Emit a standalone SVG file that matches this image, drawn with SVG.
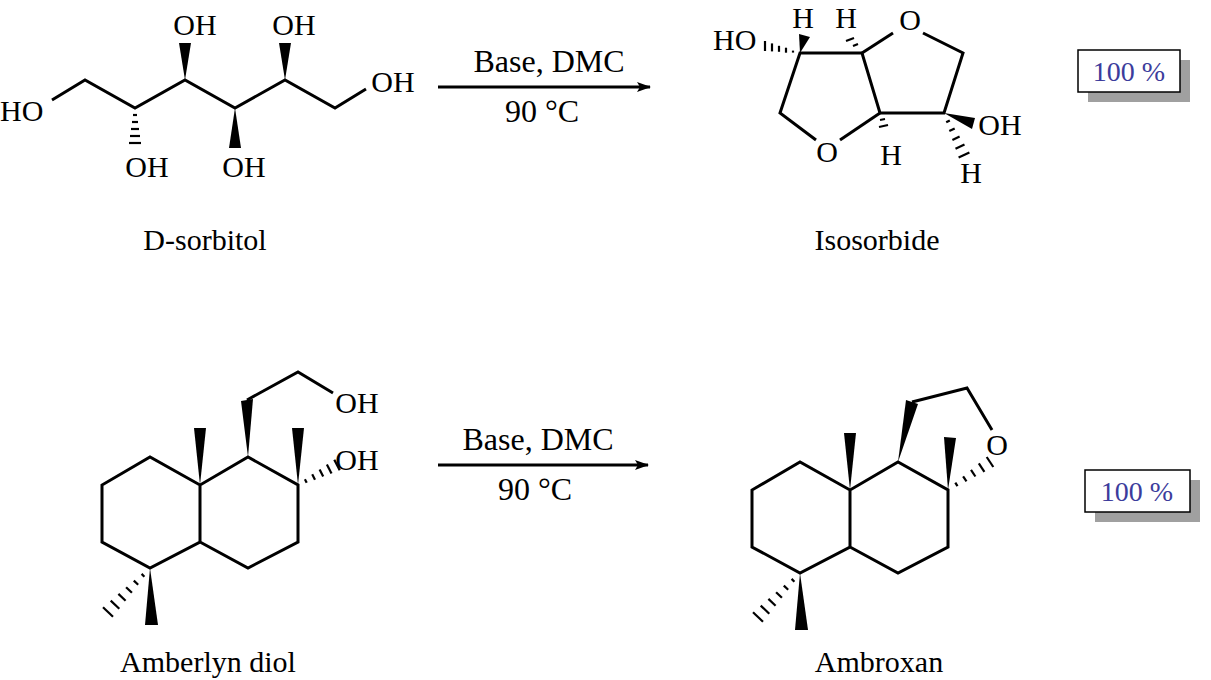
<svg xmlns="http://www.w3.org/2000/svg" xmlns:xlink="http://www.w3.org/1999/xlink" width="1211" height="680" viewBox="0 0 1211 680">
<style>
.b{stroke:#000;stroke-width:3;fill:none;stroke-linejoin:miter}
.h{stroke:#000;stroke-width:2.2}
.w{fill:#000}
text{font-family:"Liberation Serif","Times New Roman",serif;font-size:30px;fill:#000}
.m{text-anchor:middle}
.r{font-size:32px}
.p{fill:#3c3c9c;font-size:28px;text-anchor:middle}
.sh{fill:#a0a0a0}
.bx{fill:#fff;stroke:#000;stroke-width:1.5}
</style>
<defs>
<marker id="ar" markerWidth="14" markerHeight="10" refX="13" refY="5" orient="auto" markerUnits="userSpaceOnUse"><path d="M0,0 L14,5 L0,10 L3,5 Z" fill="#000"/></marker>
<g id="decalin">
<polyline class="b" points="200,485 150,457 102,485 102,542 150,568 200,542 200,485 248,457 298,485 298,542 248,568 200,542"/>
<polygon class="w" points="200,485 194,428 206,428"/>
<polygon class="w" points="150,568 145,625 158,625"/>
<g class="h">
<line x1="141.6" y1="573.9" x2="144.4" y2="576.7"/><line x1="133.8" y1="580.6" x2="138.2" y2="584.8"/><line x1="126.1" y1="587.2" x2="131.9" y2="592.8"/><line x1="118.4" y1="593.9" x2="125.6" y2="600.8"/><line x1="110.7" y1="600.6" x2="119.3" y2="608.8"/><line x1="103" y1="607.2" x2="113" y2="616.8"/>
</g>
</g>
</defs>
<g id="connectors">
<line class="b" x1="438" y1="87" x2="650" y2="87" stroke-width="2" marker-end="url(#ar)"/>
<line class="b" x1="438" y1="465" x2="648" y2="465" stroke-width="2" marker-end="url(#ar)"/>
<text class="m r" x="549" y="72">Base, DMC</text>
<text class="m r" x="542" y="122">90 °C</text>
<text class="m r" x="538" y="450">Base, DMC</text>
<text class="m r" x="535" y="500">90 °C</text>
</g>
<g id="sorbitol">
<polyline class="b" points="52,100 85,80 135,108 185,80 235,108 285,80 335,108 366,89"/>
<polygon class="w" points="185,80 179,43 191,43"/>
<polygon class="w" points="235,108 229,148 241,148"/>
<polygon class="w" points="285,80 279,43 291,43"/>
<g class="h"><line x1="133" y1="115" x2="137" y2="115"/><line x1="132" y1="122" x2="138" y2="122"/><line x1="131" y1="129" x2="139" y2="129"/><line x1="130" y1="136" x2="140" y2="136"/><line x1="129" y1="143" x2="141" y2="143"/></g>
<text x="0" y="121">HO</text>
<text class="m" x="147" y="177">OH</text>
<text class="m" x="195" y="35">OH</text>
<text class="m" x="244" y="177">OH</text>
<text class="m" x="294" y="35">OH</text>
<text class="m" x="393" y="92">OH</text>
<text class="m" x="205" y="250">D-sorbitol</text>
</g>
<g id="isosorbide">
<polyline class="b" points="816,140 780,113 800,53 862,53 880,113 944,113 963,53 923,33"/>
<line class="b" x1="862" y1="53" x2="893" y2="33"/>
<line class="b" x1="840" y1="140" x2="880" y2="113"/>
<polygon class="w" points="800,53 799,34 810,37"/>
<polygon class="w" points="944,113 975,118 972,129"/>
<g class="h">
<line x1="793" y1="50.6" x2="793" y2="52.6"/><line x1="786" y1="47.7" x2="786" y2="52.7"/><line x1="779" y1="45.8" x2="779" y2="51.8"/><line x1="772" y1="43.4" x2="772" y2="51.4"/><line x1="765" y1="41" x2="765" y2="51"/>
<line x1="853" y1="46" x2="858" y2="44"/><line x1="846" y1="41" x2="854" y2="38"/>
<line x1="880" y1="120" x2="885" y2="119"/><line x1="879" y1="127" x2="888" y2="125"/>
<line x1="946.2" y1="122.3" x2="949.8" y2="120.5"/><line x1="949.3" y1="131.1" x2="954.7" y2="128.5"/><line x1="952.4" y1="139.9" x2="959.6" y2="136.5"/><line x1="955.5" y1="148.8" x2="964.5" y2="144.5"/><line x1="958.6" y1="157.6" x2="969.4" y2="152.4"/>
</g>
<text x="713" y="50">HO</text>
<text class="m" x="803" y="28">H</text>
<text class="m" x="846" y="28">H</text>
<text class="m" x="910" y="30">O</text>
<text class="m" x="827" y="162">O</text>
<text class="m" x="891" y="165">H</text>
<text class="m" x="1000" y="135">OH</text>
<text class="m" x="971" y="183">H</text>
<text class="m" x="877" y="250">Isosorbide</text>
</g>
<g id="yield1">
<rect class="sh" x="1088" y="60" width="102" height="42"/>
<rect class="bx" x="1078" y="50" width="102" height="42"/>
<text class="p" x="1129" y="81">100 %</text>
</g>
<g id="amberlyn">
<use xlink:href="#decalin"/>
<polygon class="w" points="248,457 241,401 253,399"/>
<polyline class="b" points="247,400 298,372 333,393"/>
<polygon class="w" points="298,485 292,428 304,428"/>
<g class="h">
<line x1="304.9" y1="479.2" x2="306.7" y2="482.8"/><line x1="312.2" y1="474.3" x2="315" y2="479.7"/><line x1="319.6" y1="469.4" x2="323.2" y2="476.6"/><line x1="326.9" y1="464.5" x2="331.5" y2="473.5"/><line x1="334.3" y1="459.7" x2="339.7" y2="470.3"/>
</g>
<text class="m" x="357" y="413">OH</text>
<text class="m" x="357" y="470">OH</text>
<text class="m" x="208" y="672">Amberlyn diol</text>
</g>
<g id="ambroxan">
<use xlink:href="#decalin" transform="translate(650,5)"/>
<polygon class="w" points="898,462 906,400 918,404"/>
<polyline class="b" points="912,402 967,388 992,430"/>
<polygon class="w" points="948,490 944,437 956,438"/>
<g class="h">
<line x1="955.3" y1="482.7" x2="957.5" y2="486.1"/><line x1="963.1" y1="476.3" x2="966.5" y2="481.3"/><line x1="971" y1="469.9" x2="975.4" y2="476.5"/><line x1="978.8" y1="463.4" x2="984.4" y2="471.8"/><line x1="986.7" y1="457" x2="993.3" y2="467"/>
</g>
<text class="m" x="997" y="455">O</text>
<text class="m" x="879" y="672">Ambroxan</text>
</g>
<g id="yield2">
<rect class="sh" x="1095" y="480" width="105" height="42"/>
<rect class="bx" x="1085" y="470" width="105" height="42"/>
<text class="p" x="1137" y="501">100 %</text>
</g>
</svg>
